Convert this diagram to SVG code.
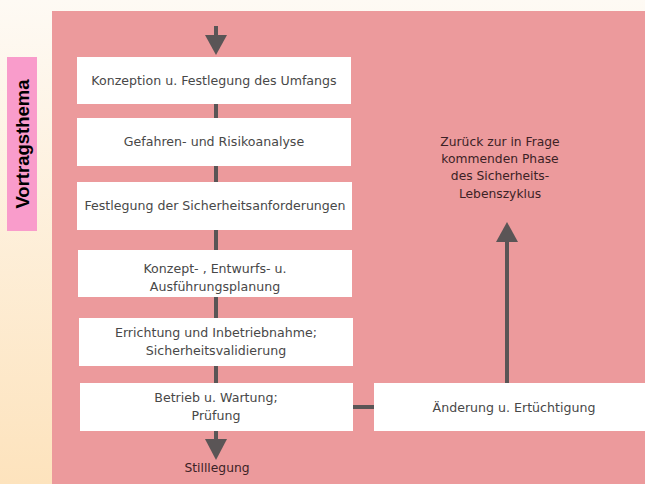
<svg xmlns="http://www.w3.org/2000/svg" width="645" height="484" viewBox="0 0 645 484">
<defs>
<linearGradient id="bg" x1="0" y1="0" x2="0" y2="1">
<stop offset="0" stop-color="#fefaf4"/>
<stop offset="1" stop-color="#fde3bd"/>
</linearGradient>
</defs>
<style>
.box{fill:#ffffff}
.t{font-family:"DejaVu Sans",sans-serif;font-size:12.6px;fill:#484848;text-anchor:middle}
.p{font-family:"DejaVu Sans",sans-serif;font-size:12.3px;fill:#3c2226;text-anchor:middle}
.ln{stroke:#5a5556;stroke-width:4;fill:none}
.hd{fill:#5a5556}
</style>
<rect x="0" y="0" width="645" height="484" fill="url(#bg)"/>
<rect x="52" y="11" width="593" height="473" fill="#ec9a9c"/>
<g id="title">
<rect x="7" y="57" width="30" height="174" fill="#f99ccb"/>
<text transform="translate(28.5,144) rotate(-90)" font-family="'Liberation Sans',Arial,sans-serif" font-weight="bold" font-size="18.5" fill="#000" text-anchor="middle">Vortragsthema</text>
</g>
<g id="connectors">
<line class="ln" x1="216" y1="26" x2="216" y2="36"/>
<path class="hd" d="M205,35 L227,35 L216,55 Z"/>
<line class="ln" x1="216" y1="104" x2="216" y2="440"/>
<path class="hd" d="M205,439 L227,439 L216,460 Z"/>
<line class="ln" x1="353" y1="407" x2="374" y2="407"/>
<line class="ln" x1="507" y1="383" x2="507" y2="238"/>
<path class="hd" d="M496,242 L518,242 L507,222 Z"/>
</g>
<g id="n1"><rect class="box" x="77" y="57" width="274" height="47"/><text class="t" x="214" y="85">Konzeption u. Festlegung des Umfangs</text></g>
<g id="n2"><rect class="box" x="77" y="118" width="274" height="48"/><text class="t" x="214" y="146">Gefahren- und Risikoanalyse</text></g>
<g id="n3"><rect class="box" x="77" y="182" width="275" height="48"/><text class="t" x="215" y="210">Festlegung der Sicherheitsanforderungen</text></g>
<g id="n4"><rect class="box" x="78" y="250" width="274" height="47"/><text class="t" x="215" y="273">Konzept- , Entwurfs- u.</text><text class="t" x="215" y="291">Ausführungsplanung</text></g>
<g id="n5"><rect class="box" x="79" y="318" width="274" height="48"/><text class="t" x="216" y="337">Errichtung und Inbetriebnahme;</text><text class="t" x="216" y="355">Sicherheitsvalidierung</text></g>
<g id="n6"><rect class="box" x="80" y="383" width="273" height="48"/><text class="t" x="216" y="402">Betrieb u. Wartung;</text><text class="t" x="216" y="420">Prüfung</text></g>
<g id="n7"><rect class="box" x="374" y="383" width="280" height="48"/><text class="t" x="514" y="412">Änderung u. Ertüchtigung</text></g>
<g id="n8"><text class="p" x="217" y="472">Stilllegung</text></g>
<g id="n9">
<text class="p" x="500" y="146">Zurück zur in Frage</text>
<text class="p" x="500" y="163">kommenden Phase</text>
<text class="p" x="500" y="180">des Sicherheits-</text>
<text class="p" x="500" y="198">Lebenszyklus</text>
</g>
</svg>
